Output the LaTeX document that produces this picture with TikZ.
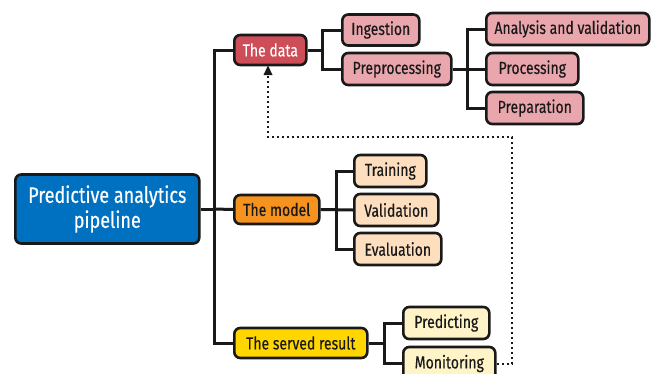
\documentclass[tikz,border=0pt]{standalone}
\usepackage{fontspec}
\setmainfont{Fira Sans}[FakeStretch=0.80,FakeBold=0.35]
\usetikzlibrary{arrows.meta}
\definecolor{rootblue}{RGB}{0,112,192}
\definecolor{datared}{RGB}{205,78,88}
\definecolor{datapink}{RGB}{233,166,172}
\definecolor{modelorange}{RGB}{246,146,30}
\definecolor{modelpeach}{RGB}{253,222,190}
\definecolor{servedyellow}{RGB}{255,214,0}
\definecolor{servedcream}{RGB}{255,244,200}
\definecolor{edge}{RGB}{25,25,25}
\tikzset{
  box/.style={draw=edge, line width=2.6pt, rounded corners=6pt, anchor=west,
    inner sep=0pt, font=\fontsize{17.5}{20}\selectfont, text=edge},
  link/.style={draw=edge, line width=3pt},
  feedback/.style={draw=edge, line width=2pt, dash pattern=on 2pt off 3pt}
}
\begin{document}
\begin{tikzpicture}[x=1pt,y=-1pt]
\useasboundingbox (0,0) rectangle (651,373);
\clip (0,0) rectangle (651,373);
\fill[white] (0,0) rectangle (651,373);

% root
\node[box, fill=rootblue, text=white, minimum width=184pt, minimum height=69pt,
  align=center, font=\fontsize{22.5}{25}\selectfont] (root) at (14,209)
  {Predictive analytics\\pipeline};

% first level
\node[box, fill=datared, text=white, minimum width=72pt, minimum height=30pt] (data) at (233,50) {The data};
\node[box, fill=modelorange, minimum width=85pt, minimum height=29pt] (model) at (233,209.5) {The model};
\node[box, fill=servedyellow, minimum width=133pt, minimum height=30pt] (served) at (233,343) {The served result};

% data branch
\node[box, fill=datapink, minimum width=77pt, minimum height=31pt] (ingest) at (341,30) {Ingestion};
\node[box, fill=datapink, minimum width=109pt, minimum height=32pt] (prep) at (341,69) {Preprocessing};
\node[box, fill=datapink, minimum width=163pt, minimum height=32pt] (analysis) at (485,29) {Analysis and validation};
\node[box, fill=datapink, minimum width=92pt, minimum height=32pt] (proc) at (485,69) {Processing};
\node[box, fill=datapink, minimum width=97pt, minimum height=32pt] (prepa) at (485,108) {Preparation};

% model branch
\node[box, fill=modelpeach, minimum width=72pt, minimum height=32pt] (train) at (353,171) {Training};
\node[box, fill=modelpeach, minimum width=84pt, minimum height=32pt] (valid) at (353,210) {Validation};
\node[box, fill=modelpeach, minimum width=87pt, minimum height=32pt] (eval) at (353,249) {Evaluation};

% served branch
\node[box, fill=servedcream, minimum width=86pt, minimum height=32pt] (predict) at (402,323) {Predicting};
\node[box, fill=servedcream, minimum width=92pt, minimum height=33pt] (monitor) at (402,363.5) {Monitoring};

% trunk
\coordinate (trunk) at (214,209);
\draw[link] (root.east) -- (trunk);
\draw[link] (data.west) -| (trunk) |- (served.west);
\draw[link] (trunk) -- (model.west);

\coordinate (jd) at (322,50);
\draw[link] (data.east) -- (jd);
\draw[link] (ingest.west) -| (jd) |- (prep.west);

\coordinate (jp) at (467,69);
\draw[link] (prep.east) -- (proc.west);
\draw[link] (analysis.west) -| (jp) |- (prepa.west);

\coordinate (jm) at (336,209.5);
\draw[link] (model.east) -- (valid.west);
\draw[link] (train.west) -| (jm) |- (eval.west);

\coordinate (js) at (384,343);
\draw[link] (served.east) -- (js);
\draw[link] (predict.west) -| (js) |- (monitor.west);

% feedback from monitoring to the data
\coordinate (fb1) at (512,363.5);
\coordinate (fb2) at (512,137);
\coordinate (fb3) at (268,137);
\draw[feedback] (monitor.east) -- (fb1) -- (fb2) -- (fb3) -- ([yshift=-3pt]data.south -| fb3);
\draw[draw=none, fill=edge] (268,65.5) -- (263.5,75) -- (272.5,75) -- cycle;
\end{tikzpicture}
\end{document}
